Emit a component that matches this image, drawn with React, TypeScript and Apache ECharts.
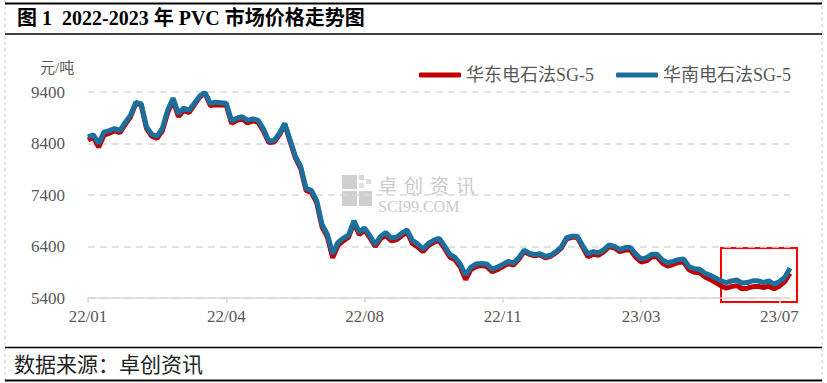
import React, { useEffect, useRef } from "react";
import * as echarts from "echarts";

const tickLabels = ["22/01", "22/04", "22/08", "22/11", "23/03", "23/07"];
const pointsPerTick = 26;

const eastChina = [
  8470, 8520, 8330, 8560, 8600, 8650, 8610, 8770, 8920, 9180,
  9150, 8690, 8540, 8500, 8650, 9000, 9240, 8920, 9040, 9000,
  9150, 9300, 9380, 9140, 9150, 9150, 9140, 8790, 8850, 8880,
  8800, 8840, 8810, 8640, 8420, 8430, 8570, 8770, 8440, 8120,
  7910, 7490, 7450, 7250, 6780, 6590, 6180, 6420, 6510, 6580,
  6870, 6630, 6720, 6570, 6400, 6550, 6620, 6510, 6530, 6610,
  6680, 6460, 6390, 6300, 6420, 6480, 6520, 6370, 6200, 6140,
  6000, 5760, 5950, 6010, 6030, 6010, 5910, 5950, 6010, 6070,
  6040, 6150, 6300, 6250, 6220, 6240, 6180, 6210, 6280, 6370,
  6550, 6580, 6580, 6390, 6200, 6250, 6230, 6300, 6400, 6370,
  6300, 6330, 6330, 6190, 6100, 6120, 6200, 6200, 6080, 6020,
  6050, 6090, 6100, 5950, 5900, 5890, 5810, 5760, 5700, 5640,
  5590, 5620, 5640, 5580, 5590, 5620, 5630, 5600, 5630, 5580,
  5630, 5720, 5880,
];

const southChina = [
  8530, 8570, 8400, 8620, 8650, 8690, 8650, 8810, 8950, 9200,
  9170, 8720, 8580, 8540, 8700, 9050, 9280, 8980, 9090, 9040,
  9180, 9320, 9390, 9180, 9200, 9190, 9180, 8840, 8890, 8920,
  8850, 8880, 8850, 8680, 8450, 8460, 8600, 8790, 8470, 8150,
  7950, 7530, 7490, 7290, 6830, 6640, 6260, 6480, 6560, 6620,
  6900, 6680, 6760, 6610, 6440, 6595, 6670, 6565, 6580, 6660,
  6720, 6520, 6450, 6350, 6460, 6520, 6560, 6420, 6250, 6190,
  6060, 5850, 6000, 6060, 6070, 6060, 5960, 6000, 6050, 6110,
  6080, 6180, 6330, 6270, 6240, 6260, 6205, 6230, 6300, 6390,
  6570, 6600, 6600, 6420, 6255, 6300, 6275, 6340, 6430, 6400,
  6340, 6380, 6380, 6250, 6160, 6180, 6250, 6250, 6140, 6085,
  6110, 6145, 6160, 6010, 5968, 5960, 5880, 5840, 5790, 5735,
  5700, 5730, 5750, 5690, 5700, 5735, 5735, 5700, 5730, 5670,
  5715, 5800, 5980,
];

const seriesNames = ["华东电石法SG-5", "华南电石法SG-5"];
const yMin = 5400;
const yMax = 9400;
const yStep = 1000;

const SERIF = '"Liberation Serif", "Times New Roman", "Noto Sans CJK SC", serif';
const watermarkChars = ["卓", "创", "资", "讯"];

export default function App() {
  const ref = useRef<HTMLDivElement>(null);

  useEffect(() => {
    if (!ref.current) return;
    const chart = echarts.init(ref.current, null, { renderer: "svg" });
    const categories = southChina.map((_, i) => String(i));

    const option: any = {
      animation: false,
      backgroundColor: "#ffffff",
      grid: { left: 88, right: 37, top: 92, bottom: 85 },
      legend: {
        left: 414,
        top: 61,
        itemWidth: 42,
        itemHeight: 5,
        itemGap: 22,
        icon: "roundRect",
        textStyle: { fontFamily: SERIF, fontSize: 18, color: "#595959" },
        data: seriesNames,
      },
      xAxis: {
        type: "category",
        boundaryGap: false,
        data: categories,
        axisLine: { lineStyle: { color: "#d9d9d9", width: 1.5 } },
        axisTick: { interval: pointsPerTick - 1, length: 5, lineStyle: { color: "#d9d9d9", width: 1.5 } },
        axisLabel: {
          interval: pointsPerTick - 1,
          margin: 10,
          fontFamily: SERIF,
          fontSize: 17,
          color: "#595959",
          formatter: (_v: string, idx: number) => tickLabels[Math.round(idx / pointsPerTick)] ?? "",
        },
        splitLine: { show: false },
      },
      yAxis: {
        type: "value",
        min: yMin,
        max: yMax,
        interval: yStep,
        axisLine: { show: false },
        axisTick: { show: false },
        axisLabel: {
          margin: 23,
          fontFamily: SERIF,
          fontSize: 17,
          color: "#595959",
          formatter: (v: number) => String(v),
        },
        splitLine: { lineStyle: { color: "#d9d9d9", width: 1.5, type: [7, 5] } },
      },
      series: [
        {
          name: seriesNames[0],
          type: "line",
          data: eastChina,
          showSymbol: false,
          symbol: "none",
          lineStyle: { color: "#c00000", width: 5 },
          itemStyle: { color: "#c00000" },
        },
        {
          name: seriesNames[1],
          type: "line",
          data: southChina,
          showSymbol: false,
          symbol: "none",
          lineStyle: { color: "#1a6f9c", width: 5 },
          itemStyle: { color: "#1a6f9c" },
        },
      ],
      graphic: [
        // frame
        { type: "line", shape: { x1: 5, y1: 0, x2: 5, y2: 383 }, style: { stroke: "#c8c8c8", lineWidth: 1, lineDash: [3, 3] } },
        { type: "line", shape: { x1: 822, y1: 0, x2: 822, y2: 383 }, style: { stroke: "#c8c8c8", lineWidth: 1, lineDash: [3, 3] } },
        { type: "line", shape: { x1: 5, y1: 3.5, x2: 822, y2: 3.5 }, style: { stroke: "#000", lineWidth: 2 } },
        { type: "line", shape: { x1: 5, y1: 34, x2: 822, y2: 34 }, style: { stroke: "#000", lineWidth: 1.5 } },
        { type: "line", shape: { x1: 5, y1: 347.5, x2: 822, y2: 347.5 }, style: { stroke: "#000", lineWidth: 1.5 } },
        { type: "line", shape: { x1: 5, y1: 380.5, x2: 822, y2: 380.5 }, style: { stroke: "#000", lineWidth: 2 } },
        // title
        {
          type: "text",
          left: 17,
          top: 8,
          style: {
            text: "图 1  2022-2023 年 PVC 市场价格走势图",
            font: `bold 20px ${SERIF}`,
            fill: "#000",
          },
        },
        // unit
        {
          type: "text",
          left: 40,
          top: 60,
          style: { text: "元/吨", font: `15px ${SERIF}`, fill: "#595959" },
        },
        // source
        {
          type: "text",
          left: 14,
          top: 354,
          style: { text: "数据来源：卓创资讯", font: `21px ${SERIF}`, fill: "#222" },
        },
        // watermark
        {
          type: "group",
          left: 342,
          top: 175,
          silent: true,
          children: [
            { type: "rect", shape: { x: 0, y: 0, width: 15, height: 14 }, style: { fill: "#cfcfcf" } },
            { type: "rect", shape: { x: 17, y: 0, width: 5, height: 5 }, style: { fill: "#d8d8d8" } },
            { type: "rect", shape: { x: 24, y: 4, width: 5, height: 5 }, style: { fill: "#e0e0e0" } },
            { type: "rect", shape: { x: 17, y: 8, width: 5, height: 5 }, style: { fill: "#e0e0e0" } },
            { type: "rect", shape: { x: 0, y: 16, width: 15, height: 15 }, style: { fill: "#cfcfcf" } },
            { type: "rect", shape: { x: 17, y: 16, width: 13, height: 15 }, style: { fill: "#cfcfcf" } },
            ...watermarkChars.map((ch, i) => ({
              type: "text",
              x: 36 + i * 26,
              y: 0,
              style: { text: ch, font: `19px "Noto Sans CJK SC", sans-serif`, fill: "#cbcbcb", textVerticalAlign: "top" },
            })),
            { type: "text", x: 36, y: 23, style: { text: "SCI99.COM", font: `16px ${SERIF}`, fill: "#cbcbcb", textVerticalAlign: "top" } },
          ],
        },
        // highlight box
        {
          type: "rect",
          shape: { x: 721, y: 248, width: 76, height: 54 },
          style: { fill: "none", stroke: "#ff0000", lineWidth: 2 },
        },
      ],
    };

    chart.setOption(option);
    return () => chart.dispose();
  }, []);

  return (
    <div
      ref={ref}
      style={{ position: "fixed", left: 0, top: 0, width: 827, height: 383, background: "#fff" }}
    />
  );
}
